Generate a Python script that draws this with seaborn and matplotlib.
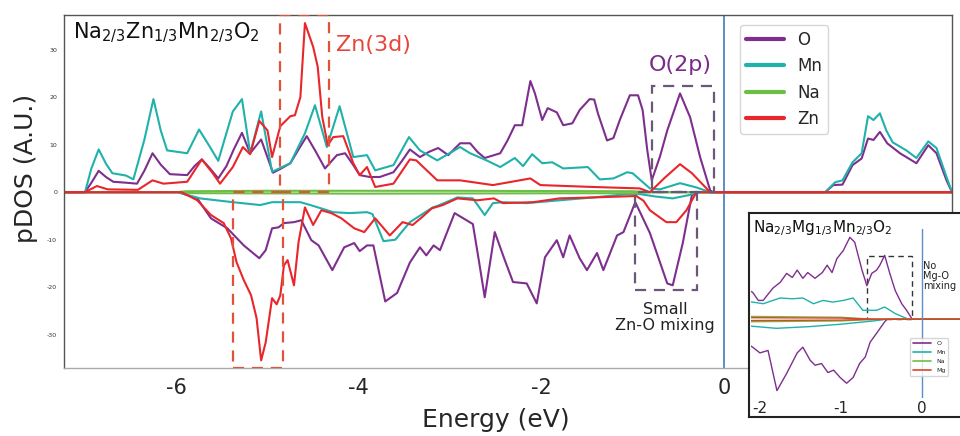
import matplotlib
matplotlib.use("Agg")
import matplotlib.pyplot as plt
import seaborn as sns
import numpy as np
from matplotlib.patches import Rectangle

sns.set_style("white")
plt.rcParams['font.family'] = ['DejaVu Sans']

# ---------------- main panel data (Na2/3Zn1/3Mn2/3O2) ----------------
o_up_e = [-7.25, -7.0, -6.93, -6.85, -6.77, -6.69, -6.55, -6.43, -6.35, -6.26, -6.17, -6.07, -5.88, -5.80, -5.72,
          -5.63, -5.54, -5.45, -5.37, -5.28, -5.19, -5.07, -4.94, -4.85, -4.75, -4.66, -4.57, -4.47, -4.37, -4.24,
          -4.15, -4.07, -3.99, -3.88, -3.77, -3.62, -3.53, -3.44, -3.33, -3.23, -3.13, -3.02, -2.89, -2.78, -2.70,
          -2.62, -2.45, -2.37, -2.29, -2.21, -2.12, -2.07, -1.99, -1.93, -1.83, -1.76, -1.66, -1.58, -1.47, -1.42,
          -1.38, -1.28, -1.21, -1.14, -1.03, -0.94, -0.89, -0.84, -0.79, -0.70, -0.62, -0.48, -0.37, -0.26, -0.15,
          -0.12, 1.11, 1.20, 1.30, 1.41, 1.51, 1.58, 1.64, 1.71, 1.79, 1.93, 2.11, 2.24, 2.33, 2.44, 2.50, 2.55]
o_up_v = [0, 0, 2.0, 4.5, 3.2, 2.2, 2.0, 1.8, 4.5, 8.2, 5.8, 3.8, 3.6, 5.5, 6.9,
          5.0, 2.9, 5.5, 9.0, 12.5, 8.2, 11.1, 4.1, 5.0, 6.1, 9.0, 11.8, 8.5, 5.0, 7.8,
          8.2, 6.0, 3.6, 3.2, 3.2, 4.2, 6.5, 9.0, 7.4, 8.5, 9.3, 7.8, 10.3, 10.3, 8.5,
          7.2, 8.2, 10.9, 14.1, 14.1, 23.4, 20.8, 15.2, 17.7, 16.8, 14.1, 14.5, 17.3, 19.6, 19.5,
          16.6, 10.9, 11.4, 15.2, 20.4, 20.4, 17.3, 9.0, 2.5, 7.5, 13.0, 20.8, 15.8, 7.4, 0.4,
          0, 0, 1.5, 1.6, 5.7, 7.1, 11.3, 11.0, 12.7, 10.3, 8.2, 6.1, 9.9, 8.2, 2.5, 0, 0]

mn_up_e = [-7.25, -7.0, -6.93, -6.85, -6.77, -6.70, -6.55, -6.47, -6.35, -6.25, -6.17, -6.10, -5.88, -5.75, -5.63,
           -5.54, -5.38, -5.28, -5.19, -5.07, -4.95, -4.75, -4.59, -4.48, -4.35, -4.21, -4.06, -3.91, -3.82, -3.62,
           -3.45, -3.33, -3.14, -2.89, -2.78, -2.60, -2.45, -2.29, -2.20, -2.10, -1.99, -1.88, -1.76, -1.49, -1.36,
           -1.21, -1.06, -1.00, -0.81, -0.70, -0.48, -0.30, -0.15, 1.11, 1.22, 1.30, 1.41, 1.51, 1.58, 1.64,
           1.71, 1.78, 1.85, 2.00, 2.11, 2.24, 2.33, 2.44, 2.50, 2.55]
mn_up_v = [0, 0, 5.0, 9.0, 6.0, 4.0, 3.5, 2.7, 11.0, 19.6, 13.0, 8.8, 8.2, 13.2, 9.5,
           6.6, 17.0, 19.6, 8.2, 17.0, 4.3, 6.1, 12.4, 18.3, 9.5, 18.1, 7.4, 7.8, 4.6, 5.7,
           11.6, 8.8, 6.7, 9.5, 8.2, 6.7, 5.3, 7.2, 5.5, 8.0, 6.1, 6.3, 5.0, 5.3, 2.7,
           2.9, 4.2, 4.0, 0.8, 0.6, 1.9, 1.0, 0, 0, 2.1, 2.5, 6.3, 8.2, 16.0, 15.2,
           16.6, 13.0, 10.5, 8.8, 7.2, 10.7, 9.3, 3.2, 0, 0]

na_up_e = [-7.25, -6.0, -5.9, -5.0, -3.0, -1.0, -0.8, 2.55]
na_up_v = [0, 0, 0.2, 0.3, 0.3, 0.2, 0, 0]

zn_up_e = [-7.25, -7.0, -6.87, -6.75, -6.42, -6.26, -6.14, -5.88, -5.72, -5.60, -5.52, -5.38, -5.27, -5.19, -5.09,
           -5.00, -4.95, -4.86, -4.75, -4.70, -4.64, -4.59, -4.50, -4.45, -4.40, -4.34, -4.28, -4.17, -4.06, -3.99,
           -3.91, -3.82, -3.62, -3.44, -3.37, -3.14, -2.89, -2.53, -2.12, -2.01, -1.43, -0.92, -0.81, -0.65, -0.48,
           -0.35, -0.15, 2.55]
zn_up_v = [0, 0, 1.3, 0.6, 0.5, 2.5, 1.8, 2.2, 6.9, 4.0, 1.8, 5.3, 9.5, 8.0, 15.0,
           13.0, 7.4, 13.9, 16.0, 16.2, 20.0, 35.6, 30.6, 26.4, 15.8, 9.9, 11.6, 11.8, 6.1, 3.6,
           5.3, 1.1, 1.8, 6.9, 6.7, 2.5, 2.5, 1.5, 2.9, 1.5, 1.1, 0.8, 0, 3.0, 5.9,
           4.0, 0, 0]

o_dn_e = [-7.25, -5.98, -5.77, -5.62, -5.44, -5.26, -5.09, -5.02, -4.95, -4.88, -4.82, -4.71, -4.63, -4.52, -4.44,
          -4.29, -4.16, -4.05, -3.99, -3.91, -3.84, -3.71, -3.58, -3.44, -3.33, -3.26, -3.18, -3.11, -2.95, -2.75,
          -2.68, -2.62, -2.51, -2.40, -2.31, -2.16, -2.05, -1.96, -1.83, -1.76, -1.69, -1.58, -1.50, -1.39, -1.32,
          -1.17, -1.10, -0.97, -0.81, -0.62, -0.56, -0.45, -0.35, -0.30, 2.55]
o_dn_v = [0, 0, -1.3, -5.5, -7.6, -11.2, -13.9, -12.2, -7.6, -7.4, -6.5, -6.3, -5.9, -10.1, -11.2,
          -16.4, -11.6, -10.7, -12.4, -11.2, -11.2, -23.0, -21.2, -14.8, -11.6, -13.3, -11.2, -12.2, -4.4, -6.7,
          -14.9, -22.1, -8.4, -14.3, -18.9, -19.2, -23.4, -13.7, -10.1, -13.7, -9.1, -13.9, -16.4, -12.8, -16.4,
          -9.1, -8.4, -2.1, -8.6, -19.2, -19.6, -10.7, -0.6, 0, 0]

mn_dn_e = [-7.25, -5.98, -5.74, -5.38, -5.08, -4.95, -4.64, -4.53, -4.28, -4.10, -3.91, -3.85, -3.73, -3.60, -3.44,
           -3.19, -3.14, -2.92, -2.75, -2.62, -2.53, -2.42, -2.16, -1.80, -1.43, -1.06, -0.92, -0.75, -0.56, -0.38,
           -0.30, 2.55]
mn_dn_v = [0, 0, -1.3, -2.1, -2.7, -2.1, -2.1, -2.7, -4.2, -4.4, -4.2, -4.6, -10.3, -10.0, -6.3,
           -3.2, -2.9, -1.1, -1.3, -4.8, -2.3, -2.1, -2.3, -1.7, -1.1, -0.4, -0.4, -0.9, -1.3, -0.6,
           0, 0]

na_dn_e = [-7.25, -5.98, -5.8, -4.0, -1.0, -0.8, 2.55]
na_dn_v = [0, 0, -0.2, -0.3, -0.2, 0, 0]

zn_dn_e = [-7.25, -5.94, -5.77, -5.62, -5.48, -5.40, -5.34, -5.26, -5.18, -5.12, -5.07, -5.02, -4.95, -4.90, -4.86,
           -4.82, -4.78, -4.71, -4.66, -4.59, -4.50, -4.41, -4.30, -4.19, -4.05, -3.94, -3.82, -3.66, -3.52, -3.41,
           -3.31, -3.20, -3.08, -2.92, -2.70, -2.52, -2.42, -2.09, -1.80, -1.43, -0.96, -0.88, -0.81, -0.63, -0.52,
           -0.41, -0.30, 2.55]
zn_dn_v = [0, 0, -1.7, -4.8, -6.5, -9.7, -14.7, -18.5, -21.7, -26.5, -35.4, -31.6, -22.3, -23.6, -21.7,
           -15.4, -14.3, -19.6, -10.5, -3.2, -6.9, -3.8, -4.4, -5.5, -7.6, -8.4, -5.5, -9.1, -6.3, -6.9,
           -5.3, -3.4, -2.7, -1.3, -1.7, -1.3, -2.3, -2.1, -1.3, -1.1, -0.8, -1.8, -3.8, -6.3, -6.3,
           -3.8, 0, 0]

# ---------------- inset data (Na2/3Mg1/3Mn2/3O2) ----------------
mg_o_up_e = [-2.15, -2.09, -2.02, -1.96, -1.84, -1.75, -1.67, -1.60, -1.54, -1.47, -1.41, -1.32, -1.23, -1.17, -1.11,
             -1.05, -0.97, -0.89, -0.83, -0.74, -0.68, -0.62, -0.56, -0.52, -0.46, -0.40, -0.33, -0.25, -0.19, -0.12, 1.0]
mg_o_up_v = [3.6, 3.3, 2.3, 2.3, 3.8, 4.5, 5.6, 5.1, 6.0, 5.0, 5.7, 5.0, 5.7, 6.6, 5.7,
             7.4, 8.4, 10.0, 9.4, 6.0, 4.1, 5.6, 6.0, 6.6, 7.8, 5.7, 3.5, 1.9, 1.1, 0, 0]
mg_mn_up_e = [-2.15, -2.09, -1.96, -1.75, -1.60, -1.47, -1.34, -1.22, -1.10, -0.97, -0.85, -0.73, -0.56, -0.46,
              -0.33, -0.19, -0.12, 1.0]
mg_mn_up_v = [2.2, 2.1, 1.9, 2.6, 2.5, 2.6, 1.9, 2.3, 2.1, 2.3, 2.6, 1.1, 1.1, 1.5, 0.7, 0.1, 0, 0]
mg_o_dn_e = [-2.15, -2.09, -2.00, -1.90, -1.79, -1.67, -1.54, -1.47, -1.38, -1.32, -1.24, -1.16, -1.09, -1.01, -0.93,
             -0.85, -0.77, -0.70, -0.64, -0.56, -0.46, -0.43, 1.0]
mg_o_dn_v = [-3.0, -3.4, -4.1, -3.8, -8.7, -6.6, -4.1, -3.4, -5.0, -5.6, -5.4, -6.5, -6.2, -7.1, -7.8,
             -7.1, -5.4, -4.6, -2.8, -1.7, -0.3, 0, 0]
mg_mn_dn_e = [-2.15, -1.8, -1.4, -1.0, -0.6, -0.45, 1.0]
mg_mn_dn_v = [-0.8, -1.1, -0.9, -0.6, -0.2, 0, 0]
mg_na_up_e = [-2.15, -1.0, -0.6, 1.0]
mg_na_up_v = [0.35, 0.25, 0, 0]
mg_na_dn_v = [-0.3, -0.2, 0, 0]
mg_mg_up_v = [0.2, 0.15, 0, 0]
mg_mg_dn_v = [-0.15, -0.1, 0, 0]

xticks_main = [-6, -4, -2, 0, 2]
yticks_main = [-30, -20, -10, 0, 10, 20, 30]
xticks_inset = [-2, -1, 0]

C_O, C_MN, C_NA, C_ZN = "#7E2F8E", "#20B2AA", "#6DBE45", "#E8262B"

fig = plt.figure(figsize=(9.6, 4.36), dpi=100)
ax = fig.add_axes([64/960, 1-368/436, (952-64)/960, (368-15)/436])

series = [
    ("O", C_O, [(o_up_e, o_up_v), (o_dn_e, o_dn_v)]),
    ("Mn", C_MN, [(mn_up_e, mn_up_v), (mn_dn_e, mn_dn_v)]),
    ("Na", C_NA, [(na_up_e, na_up_v), (na_dn_e, na_dn_v)]),
    ("Zn", C_ZN, [(zn_up_e, zn_up_v), (zn_dn_e, zn_dn_v)]),
]
for name, col, parts in series:
    for i, (e, v) in enumerate(parts):
        sns.lineplot(x=e, y=v, color=col, lw=1.5, ax=ax, estimator=None,
                     label=name if i == 0 else None, legend=False)

ax.set_xlim(-7.23, 2.5)
ax.set_ylim(-37.0, 37.3)
ax.axvline(0, color="#5b8ec8", lw=1.4, zorder=1)

# dashed boxes
ax.add_patch(Rectangle((-4.86, 0), 0.53, 37.3, fill=False, ls=(0, (5, 3.5)), lw=1.6, ec="#e0533a", zorder=5))
ax.add_patch(Rectangle((-5.38, -37.0), 0.55, 37.0, fill=False, ls=(0, (5, 3.5)), lw=1.6, ec="#e0533a", zorder=5))
ax.add_patch(Rectangle((-0.79, 0), 0.68, 22.3, fill=False, ls=(0, (5, 3.5)), lw=1.6, ec="#6b5878", zorder=5))
ax.add_patch(Rectangle((-0.975, -20.6), 0.68, 20.6, fill=False, ls=(0, (5, 3.5)), lw=1.6, ec="#6b5878", zorder=5))

ax.text(0.010, 0.949, r"Na$_{2/3}$Zn$_{1/3}$Mn$_{2/3}$O$_2$", transform=ax.transAxes,
        fontsize=15, va="center", ha="left", color="#111111")
ax.text(0.306, 0.915, "Zn(3d)", transform=ax.transAxes, fontsize=16, va="center", ha="left", color="#e8453a")
ax.text(0.658, 0.858, "O(2p)", transform=ax.transAxes, fontsize=16, va="center", ha="left", color="#7b2a8a")
ax.text(0.677, 0.142, "Small\nZn-O mixing", transform=ax.transAxes, fontsize=11.5, va="center",
        ha="center", color="#222222", linespacing=1.1)

ax.set_xticks(xticks_main)
ax.set_xticklabels([str(t) for t in xticks_main])
ax.set_yticks(yticks_main)
ax.set_yticklabels([str(t) for t in yticks_main])
ax.tick_params(axis="x", labelsize=15, length=3, pad=4)
ax.tick_params(axis="y", labelsize=4.5, length=2, pad=3, colors="#333333")
ax.set_xlabel("Energy (eV)", fontsize=18)
ax.set_ylabel("pDOS (A.U.)", fontsize=18)
ax.xaxis.set_label_coords((496-64)/888, (368-408)/353)
ax.yaxis.set_label_coords((38-64)/888, (368-168)/353)
for s in ax.spines.values():
    s.set_color("#555555")
    s.set_linewidth(1.0)
ax.spines["bottom"].set_color("#aaaaaa")

leg = ax.legend(loc="upper left", bbox_to_anchor=((740-64)/888, 1-(25-15)/353), borderaxespad=0,
                fontsize=12, handlelength=2.3, frameon=True, fancybox=True, labelspacing=0.5,
                borderpad=0.35)
for line in leg.get_lines():
    line.set_linewidth(3)

# ---------------- inset ----------------
frame = fig.add_axes([749/960, 1-417/436, (990-749)/960, (417-213)/436], zorder=10)
frame.set_facecolor("white")
frame.set_xticks([])
frame.set_yticks([])
for s in frame.spines.values():
    s.set_color("#222222")
    s.set_linewidth(1.5)

axi = fig.add_axes([751/960, 1-398/436, (1000-751)/960, (398-216)/436], zorder=11)
axi.patch.set_alpha(0)
inset_series = [
    ("O", C_O, [(mg_o_up_e, mg_o_up_v), (mg_o_dn_e, mg_o_dn_v)]),
    ("Mn", C_MN, [(mg_mn_up_e, mg_mn_up_v), (mg_mn_dn_e, mg_mn_dn_v)]),
    ("Na", C_NA, [(mg_na_up_e, mg_na_up_v), (mg_na_up_e, mg_na_dn_v)]),
    ("Mg", "#d9452b", [(mg_na_up_e, mg_mg_up_v), (mg_na_up_e, mg_mg_dn_v)]),
]
for name, col, parts in inset_series:
    for i, (e, v) in enumerate(parts):
        sns.lineplot(x=e, y=v, color=col, lw=1.0, ax=axi, estimator=None,
                     label=name if i == 0 else None, legend=False)
axi.set_xlim(-2.11, 0.963)
axi.set_ylim(-9.6, 12.6)
axi.axvline(0, ymin=-0.01, ymax=0.93, color="#5b8ec8", lw=1.0)
axi.add_patch(Rectangle((-0.68, 0), 0.56, 7.7, fill=False, ls=(0, (4, 3)), lw=1.0, ec="#333333"))
axi.set_xticks(xticks_inset)
axi.set_xticklabels([str(t) for t in xticks_inset])
axi.set_yticks([])
axi.tick_params(axis="x", labelsize=11, length=0, pad=2)
for s in axi.spines.values():
    s.set_visible(False)
axi.set_xlabel("")
axi.set_ylabel("")
axi.text(0.01, 0.935, r"Na$_{2/3}$Mg$_{1/3}$Mn$_{2/3}$O$_2$", transform=axi.transAxes,
         fontsize=11, va="center", ha="left", color="#111111")
axi.text(0.69, 0.67, "No\nMg-O\nmixing", transform=axi.transAxes, fontsize=7, va="center",
         ha="left", color="#222222", linespacing=1.0)
li = axi.legend(loc="upper left", bbox_to_anchor=((910-751)/249, (398-338)/182), borderaxespad=0,
                fontsize=4.5, handlelength=3, frameon=True, labelspacing=0.6)
for line in li.get_lines():
    line.set_linewidth(1.2)

fig.savefig("out.png", dpi=100)
